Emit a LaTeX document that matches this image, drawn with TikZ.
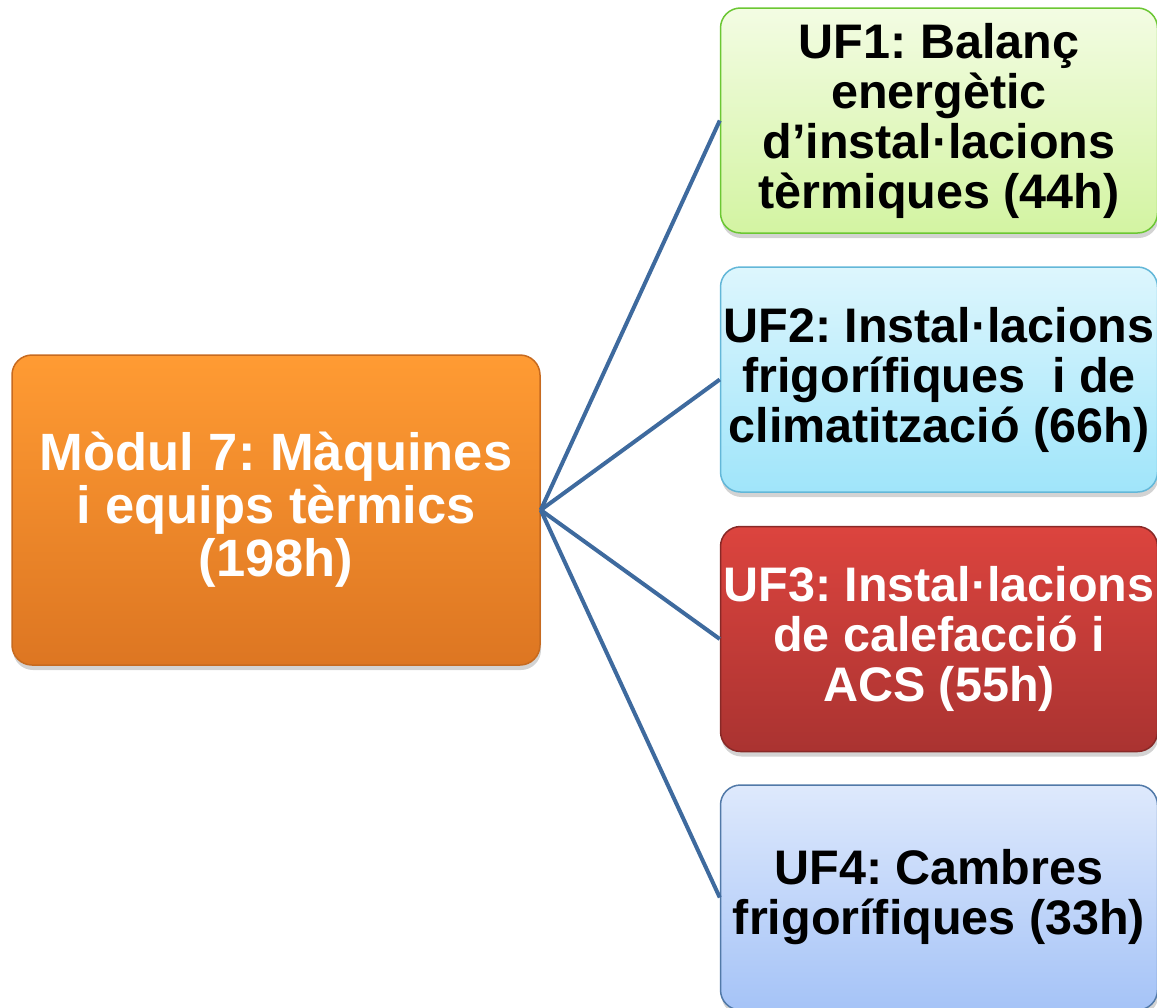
\documentclass[tikz,border=0pt]{standalone}
\usepackage{fontspec}
\setmainfont{Liberation Sans}
\usepackage{tikz}
\usetikzlibrary{positioning,shadows}
\frenchspacing

\definecolor{orangetop}{HTML}{FF9B33}
\definecolor{orangebot}{HTML}{DD7622}
\definecolor{greentop}{HTML}{F3FCE3}
\definecolor{greenbot}{HTML}{D3F4A2}
\definecolor{cyantop}{HTML}{DDF6FD}
\definecolor{cyanbot}{HTML}{A0E5FA}
\definecolor{redtop}{HTML}{DC443E}
\definecolor{redbot}{HTML}{AA3331}
\definecolor{bluetop}{HTML}{DEE9FC}
\definecolor{bluebot}{HTML}{A5C3F7}
\definecolor{linkblue}{HTML}{3E6A9E}

\begin{document}
\begin{tikzpicture}[line join=bevel,
  box/.style={rounded corners=20bp, line width=1.5bp, align=center,
    font=\fontsize{48.5bp}{50bp}\selectfont\bfseries, inner sep=0pt,
    drop shadow={shadow xshift=1bp, shadow yshift=-5bp, opacity=0.35}},
  link/.style={linkblue, line width=4bp}]
%%
\clip (0bp,0bp) rectangle (1157bp,-1008bp);
\useasboundingbox (0bp,0bp) rectangle (1157bp,-1008bp);
\node (node_main) at (276bp,-510bp) [box, minimum width=528bp, minimum height=310bp,
  draw=orangebot!90!black, top color=orangetop, bottom color=orangebot, text=white,
  font=\fontsize{52.5bp}{53bp}\selectfont\bfseries] {Mòdul 7: Màquines\\i equips tèrmics\\(198h)};
  \node (node_uf1) at (939bp,-120.5bp) [box, minimum width=437bp, minimum height=225bp,
    draw=green!45!olive!80, top color=greentop, bottom color=greenbot] {UF1: Balanç\\energètic\\d’instal·lacions\\tèrmiques (44h)};
  \node (node_uf2) at (939bp,-379.5bp) [box, minimum width=437bp, minimum height=225bp,
    draw=cyan!60!teal!70, top color=cyantop, bottom color=cyanbot] {UF2: Instal·lacions\\frigorífiques\ \ i de\\climatització (66h)};
  \node (node_uf3) at (939bp,-639bp) [box, minimum width=437bp, minimum height=225bp,
    draw=redbot!80!black, top color=redtop, bottom color=redbot, text=white] {UF3: Instal·lacions\\de calefacció i\\ACS (55h)};
  \node (node_uf4) at (939bp,-897.5bp) [box, minimum width=437bp, minimum height=225bp,
    draw=linkblue!90, top color=bluetop, bottom color=bluebot] {UF4: Cambres\\frigorífiques (33h)};
  \draw [link] (node_main.east) -- (node_uf1.west);
  \draw [link] (node_main.east) -- (node_uf2.west);
  \draw [link] (node_main.east) -- (node_uf3.west);
  \draw [link] (node_main.east) -- (node_uf4.west);
%
\end{tikzpicture}
\end{document}
